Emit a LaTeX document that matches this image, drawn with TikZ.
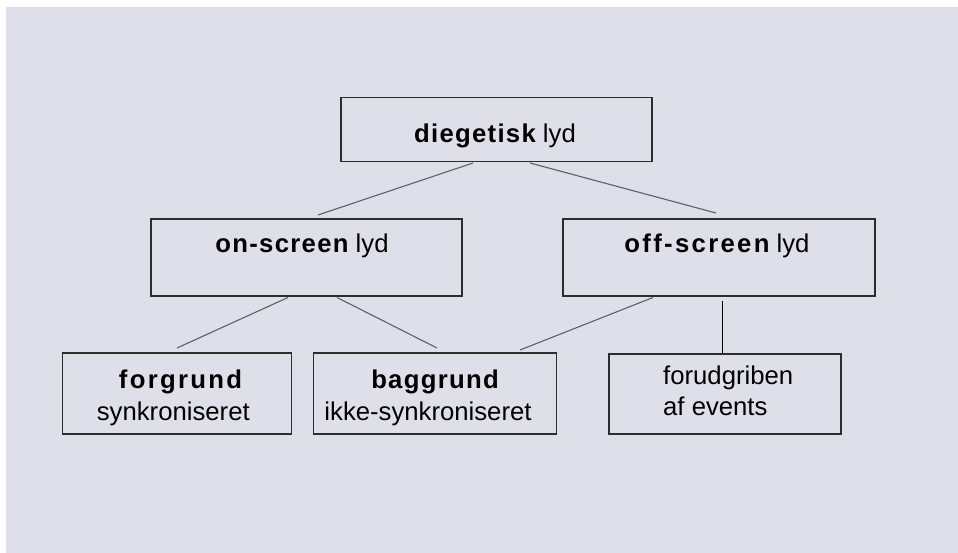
\documentclass[tikz,border=0pt]{standalone}
\usepackage{fontspec}
\setmainfont{Liberation Sans}
\newfontfamily\bsA[LetterSpace=5]{Liberation Sans Bold}
\newfontfamily\bsB[LetterSpace=9]{Liberation Sans Bold}
\definecolor{bg}{RGB}{223,223,234}
\definecolor{boxline}{RGB}{45,45,45}
\definecolor{conn}{RGB}{95,95,100}
\begin{document}
\begin{tikzpicture}[x=1pt,y=-1pt,
  box/.style={draw=boxline,line width=1.6pt,rectangle,inner sep=0pt},
  lbl/.style={anchor=base,inner sep=0pt,font=\fontsize{25.7}{31}\selectfont},
  lbll/.style={anchor=base west,inner sep=0pt,font=\fontsize{25.7}{31}\selectfont},
  conline/.style={draw=conn,line width=1.1pt},
  conblack/.style={draw=black,line width=1.5pt}]
\useasboundingbox (0,0) rectangle (958,553);
\fill[white] (0,0) rectangle (958,553);
\fill[bg] (6,7) rectangle (958,553);
% boxes
\node[box,minimum width=311pt,minimum height=64pt] (b1) at (496.5,129.5) {};
\node[box,minimum width=311pt,minimum height=77pt] (b2) at (306.5,257.5) {};
\node[box,minimum width=312pt,minimum height=77pt] (b3) at (719,257.5) {};
\node[box,minimum width=229pt,minimum height=81pt] (b4) at (177,393.5) {};
\node[box,minimum width=243pt,minimum height=81pt] (b5) at (435,393.5) {};
\node[box,minimum width=232pt,minimum height=80pt] (b6) at (725,394) {};
% labels
\node[lbl] (t1) at (495,142.7) {{\bsA diegetisk} lyd};
\node[lbl] (t2) at (302,252.7) {{\bsA on-screen} lyd};
\node[lbl] (t3) at (717,252.7) {{\bsB off-screen} lyd};
\node[lbl] (t4a) at (180.5,388) {\bsB forgrund};
\node[lbl] (t4b) at (173.3,420) {synkroniseret};
\node[lbl] (t5a) at (435,388) {\bsA baggrund};
\node[lbl] (t5b) at (428,420) {ikke-synkroniseret};
\node[lbll] (t6a) at (663,384.3) {forudgriben};
\node[lbll] (t6b) at (663,415) {af events};
% connector ends
\coordinate (c1a) at (473,163);
\coordinate (c1b) at (318,215);
\coordinate (c2a) at (530,163);
\coordinate (c2b) at (716,213);
\coordinate (c3a) at (288,297.5);
\coordinate (c3b) at (177,348);
\coordinate (c4a) at (337,297.5);
\coordinate (c4b) at (437,348);
\coordinate (c5a) at (653,297.5);
\coordinate (c5b) at (520,350);
\coordinate (c6a) at (722.3,301);
\draw[conline] (c1a) -- (c1b);
\draw[conline] (c2a) -- (c2b);
\draw[conline] (c3a) -- (c3b);
\draw[conline] (c4a) -- (c4b);
\draw[conline] (c5a) -- (c5b);
\draw[conblack] (c6a) -- (c6a |- b6.north);
\end{tikzpicture}
\end{document}
